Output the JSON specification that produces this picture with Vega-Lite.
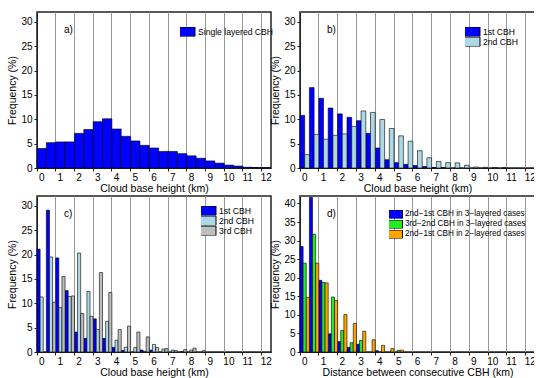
{
  "$schema": "https://vega.github.io/schema/vega-lite/v6.json",
  "padding": {"left": 7, "top": 11, "right": -3, "bottom": 0},
  "config": {
    "font": "Liberation Sans",
    "view": {"stroke": "#222", "strokeWidth": 1.5},
    "axis": {"labelFontSize": 10, "titleFontSize": 10.5, "titleFontWeight": "normal", "labelColor": "#000", "titleColor": "#000", "domainColor": "#222", "tickColor": "#222", "tickSize": 3},
    "axisX": {"grid": true, "gridColor": "#999", "gridWidth": 1, "labelAngle": 0, "labelPadding": 1, "titlePadding": 1},
    "axisY": {"grid": false, "labelPadding": 2, "titlePadding": 3},
    "legend": {"symbolType": "M-2,-1H2V1H-2Z", "symbolSize": 90, "symbolStrokeColor": "#000", "symbolStrokeWidth": 1, "symbolOpacity": 1, "labelFontSize": 8.6, "labelOffset": 7, "rowPadding": 0, "padding": 0, "clipHeight": 9.5, "labelColor": "#000"},
    "title": {"anchor": "start", "frame": "group", "fontSize": 10, "fontWeight": "normal", "baseline": "top", "offset": -23, "dx": 27, "color": "#000"}
  },
  "datasets": {
    "a": [
      {"bin": 0, "freq": 4.0}, {"bin": 0.5, "freq": 5.2}, {"bin": 1, "freq": 5.35}, {"bin": 1.5, "freq": 5.35},
      {"bin": 2, "freq": 7.1}, {"bin": 2.5, "freq": 7.9}, {"bin": 3, "freq": 9.5}, {"bin": 3.5, "freq": 10.1},
      {"bin": 4, "freq": 8.0}, {"bin": 4.5, "freq": 6.5}, {"bin": 5, "freq": 5.55}, {"bin": 5.5, "freq": 4.65},
      {"bin": 6, "freq": 4.1}, {"bin": 6.5, "freq": 3.4}, {"bin": 7, "freq": 3.4}, {"bin": 7.5, "freq": 2.95},
      {"bin": 8, "freq": 2.5}, {"bin": 8.5, "freq": 2.0}, {"bin": 9, "freq": 1.45}, {"bin": 9.5, "freq": 1.0},
      {"bin": 10, "freq": 0.6}, {"bin": 10.5, "freq": 0.4}, {"bin": 11, "freq": 0.15}, {"bin": 11.5, "freq": 0.1},
      {"bin": 12, "freq": 0.05}
    ],
    "b": [
      {"bin": 0, "series": "1st CBH", "freq": 10.8}, {"bin": 0.5, "series": "1st CBH", "freq": 16.5},
      {"bin": 1, "series": "1st CBH", "freq": 14.3}, {"bin": 1.5, "series": "1st CBH", "freq": 12.3},
      {"bin": 2, "series": "1st CBH", "freq": 11.1}, {"bin": 2.5, "series": "1st CBH", "freq": 10.4},
      {"bin": 3, "series": "1st CBH", "freq": 9.7}, {"bin": 3.5, "series": "1st CBH", "freq": 7.1},
      {"bin": 4, "series": "1st CBH", "freq": 4.1}, {"bin": 4.5, "series": "1st CBH", "freq": 1.7},
      {"bin": 5, "series": "1st CBH", "freq": 1.1}, {"bin": 5.5, "series": "1st CBH", "freq": 0.75},
      {"bin": 6, "series": "1st CBH", "freq": 0.5}, {"bin": 6.5, "series": "1st CBH", "freq": 0.3},
      {"bin": 7, "series": "1st CBH", "freq": 0.1}, {"bin": 7.5, "series": "1st CBH", "freq": 0.05},
      {"bin": 0, "series": "2nd CBH", "freq": 2.75}, {"bin": 0.5, "series": "2nd CBH", "freq": 6.9},
      {"bin": 1, "series": "2nd CBH", "freq": 5.9}, {"bin": 1.5, "series": "2nd CBH", "freq": 6.7},
      {"bin": 2, "series": "2nd CBH", "freq": 7.0}, {"bin": 2.5, "series": "2nd CBH", "freq": 8.5},
      {"bin": 3, "series": "2nd CBH", "freq": 11.7}, {"bin": 3.5, "series": "2nd CBH", "freq": 11.4},
      {"bin": 4, "series": "2nd CBH", "freq": 9.95}, {"bin": 4.5, "series": "2nd CBH", "freq": 8.1},
      {"bin": 5, "series": "2nd CBH", "freq": 6.6}, {"bin": 5.5, "series": "2nd CBH", "freq": 5.5},
      {"bin": 6, "series": "2nd CBH", "freq": 3.55}, {"bin": 6.5, "series": "2nd CBH", "freq": 2.1},
      {"bin": 7, "series": "2nd CBH", "freq": 1.35}, {"bin": 7.5, "series": "2nd CBH", "freq": 1.1},
      {"bin": 8, "series": "2nd CBH", "freq": 1.05}, {"bin": 8.5, "series": "2nd CBH", "freq": 0.55},
      {"bin": 9, "series": "2nd CBH", "freq": 0.2}, {"bin": 9.5, "series": "2nd CBH", "freq": 0.15},
      {"bin": 10, "series": "2nd CBH", "freq": 0.1}, {"bin": 10.5, "series": "2nd CBH", "freq": 0.05}
    ],
    "c": [
      {"bin": 0, "series": "1st CBH", "freq": 21.1}, {"bin": 0.5, "series": "1st CBH", "freq": 29.1},
      {"bin": 1, "series": "1st CBH", "freq": 19.3}, {"bin": 1.5, "series": "1st CBH", "freq": 12.6},
      {"bin": 2, "series": "1st CBH", "freq": 4.1}, {"bin": 2.5, "series": "1st CBH", "freq": 2.8},
      {"bin": 3, "series": "1st CBH", "freq": 6.8}, {"bin": 3.5, "series": "1st CBH", "freq": 2.8},
      {"bin": 4, "series": "1st CBH", "freq": 0.95}, {"bin": 4.5, "series": "1st CBH", "freq": 0.35},
      {"bin": 5.5, "series": "1st CBH", "freq": 0.4}, {"bin": 6, "series": "1st CBH", "freq": 0.4},
      {"bin": 0, "series": "2nd CBH", "freq": 11.3}, {"bin": 0.5, "series": "2nd CBH", "freq": 19.5},
      {"bin": 1, "series": "2nd CBH", "freq": 9.1}, {"bin": 1.5, "series": "2nd CBH", "freq": 11.4},
      {"bin": 2, "series": "2nd CBH", "freq": 20.3}, {"bin": 2.5, "series": "2nd CBH", "freq": 12.4},
      {"bin": 3, "series": "2nd CBH", "freq": 4.6}, {"bin": 3.5, "series": "2nd CBH", "freq": 6.3},
      {"bin": 4, "series": "2nd CBH", "freq": 2.4}, {"bin": 4.5, "series": "2nd CBH", "freq": 1.0},
      {"bin": 5, "series": "2nd CBH", "freq": 0.9}, {"bin": 5.5, "series": "2nd CBH", "freq": 0.15},
      {"bin": 6, "series": "2nd CBH", "freq": 1.55}, {"bin": 6.5, "series": "2nd CBH", "freq": 0.6},
      {"bin": 7, "series": "2nd CBH", "freq": 0.4}, {"bin": 7.5, "series": "2nd CBH", "freq": 0.1},
      {"bin": 8, "series": "2nd CBH", "freq": 0.4},
      {"bin": 0.5, "series": "3rd CBH", "freq": 10.2}, {"bin": 1, "series": "3rd CBH", "freq": 15.5},
      {"bin": 1.5, "series": "3rd CBH", "freq": 11.5}, {"bin": 2, "series": "3rd CBH", "freq": 7.9},
      {"bin": 2.5, "series": "3rd CBH", "freq": 7.3}, {"bin": 3, "series": "3rd CBH", "freq": 16.3},
      {"bin": 3.5, "series": "3rd CBH", "freq": 12.2}, {"bin": 4, "series": "3rd CBH", "freq": 4.6},
      {"bin": 4.5, "series": "3rd CBH", "freq": 5.3}, {"bin": 5, "series": "3rd CBH", "freq": 4.1},
      {"bin": 5.5, "series": "3rd CBH", "freq": 3.1}, {"bin": 6, "series": "3rd CBH", "freq": 0.95},
      {"bin": 6.5, "series": "3rd CBH", "freq": 0.7}, {"bin": 7, "series": "3rd CBH", "freq": 0.3},
      {"bin": 7.5, "series": "3rd CBH", "freq": 0.5}, {"bin": 8, "series": "3rd CBH", "freq": 0.8},
      {"bin": 8.5, "series": "3rd CBH", "freq": 0.3}
    ],
    "d": [
      {"bin": 0, "series": "2nd−1st CBH in 3−layered cases", "freq": 28.4},
      {"bin": 0.5, "series": "2nd−1st CBH in 3−layered cases", "freq": 41.6},
      {"bin": 1, "series": "2nd−1st CBH in 3−layered cases", "freq": 19.3},
      {"bin": 1.5, "series": "2nd−1st CBH in 3−layered cases", "freq": 4.9},
      {"bin": 2, "series": "2nd−1st CBH in 3−layered cases", "freq": 2.8},
      {"bin": 2.5, "series": "2nd−1st CBH in 3−layered cases", "freq": 1.25},
      {"bin": 3, "series": "2nd−1st CBH in 3−layered cases", "freq": 2.1},
      {"bin": 4, "series": "2nd−1st CBH in 3−layered cases", "freq": 0.35},
      {"bin": 0, "series": "3rd−2nd CBH in 3−layered cases", "freq": 23.9},
      {"bin": 0.5, "series": "3rd−2nd CBH in 3−layered cases", "freq": 31.7},
      {"bin": 1, "series": "3rd−2nd CBH in 3−layered cases", "freq": 18.7},
      {"bin": 1.5, "series": "3rd−2nd CBH in 3−layered cases", "freq": 14.8},
      {"bin": 2, "series": "3rd−2nd CBH in 3−layered cases", "freq": 5.8},
      {"bin": 2.5, "series": "3rd−2nd CBH in 3−layered cases", "freq": 2.5},
      {"bin": 3, "series": "3rd−2nd CBH in 3−layered cases", "freq": 3.1},
      {"bin": 5, "series": "3rd−2nd CBH in 3−layered cases", "freq": 0.45},
      {"bin": 0, "series": "2nd−1st CBH in 2−layered cases", "freq": 14.7},
      {"bin": 0.5, "series": "2nd−1st CBH in 2−layered cases", "freq": 23.9},
      {"bin": 1, "series": "2nd−1st CBH in 2−layered cases", "freq": 18.6},
      {"bin": 1.5, "series": "2nd−1st CBH in 2−layered cases", "freq": 13.9},
      {"bin": 2, "series": "2nd−1st CBH in 2−layered cases", "freq": 10.1},
      {"bin": 2.5, "series": "2nd−1st CBH in 2−layered cases", "freq": 7.7},
      {"bin": 3, "series": "2nd−1st CBH in 2−layered cases", "freq": 5.6},
      {"bin": 3.5, "series": "2nd−1st CBH in 2−layered cases", "freq": 3.3},
      {"bin": 4, "series": "2nd−1st CBH in 2−layered cases", "freq": 1.8},
      {"bin": 4.5, "series": "2nd−1st CBH in 2−layered cases", "freq": 0.9},
      {"bin": 5, "series": "2nd−1st CBH in 2−layered cases", "freq": 0.5}
    ]
  },
  "bounds": "flush",
  "columns": 2,
  "spacing": {"row": 28, "column": 29},
  "resolve": {"scale": {"color": "independent", "x": "independent", "y": "independent", "xOffset": "independent"}, "legend": {"color": "independent"}},
  "concat": [
    {
      "width": 234, "height": 156,
      "title": {"text": "a)"},
      "data": {"name": "a"},
      "mark": {"type": "bar", "stroke": "#000", "strokeWidth": 0.6},
      "encoding": {
        "x": {"field": "bin", "type": "ordinal", "scale": {"domain": [0,0.5,1,1.5,2,2.5,3,3.5,4,4.5,5,5.5,6,6.5,7,7.5,8,8.5,9,9.5,10,10.5,11,11.5,12], "paddingInner": 0, "paddingOuter": 0}, "axis": {"values": [0,1,2,3,4,5,6,7,8,9,10,11,12], "bandPosition": 0, "title": "Cloud base height (km)"}},
        "y": {"field": "freq", "type": "quantitative", "scale": {"domain": [0, 32]}, "axis": {"values": [0,5,10,15,20,25,30], "title": "Frequency (%)"}},
        "color": {"datum": "Single layered CBH", "scale": {"range": ["#0000ff"]}, "legend": {"orient": "none", "legendX": 143, "legendY": 15, "title": null}}
      }
    },
    {
      "width": 235, "height": 156,
      "title": {"text": "b)"},
      "data": {"name": "b"},
      "mark": {"type": "bar", "stroke": "#000", "strokeWidth": 0.6},
      "encoding": {
        "x": {"field": "bin", "type": "ordinal", "scale": {"domain": [0,0.5,1,1.5,2,2.5,3,3.5,4,4.5,5,5.5,6,6.5,7,7.5,8,8.5,9,9.5,10,10.5,11,11.5,12], "paddingInner": 0, "paddingOuter": 0}, "axis": {"values": [0,1,2,3,4,5,6,7,8,9,10,11,12], "bandPosition": 0, "title": "Cloud base height (km)"}},
        "xOffset": {"field": "series", "type": "nominal", "scale": {"domain": ["1st CBH", "2nd CBH"], "paddingInner": 0, "paddingOuter": 0}},
        "y": {"field": "freq", "type": "quantitative", "scale": {"domain": [0, 32]}, "axis": {"values": [0,5,10,15,20,25,30], "title": "Frequency (%)"}},
        "color": {"field": "series", "type": "nominal", "scale": {"domain": ["1st CBH", "2nd CBH"], "range": ["#0000ff", "#add8e6"]}, "legend": {"orient": "none", "legendX": 165, "legendY": 15, "title": null}}
      }
    },
    {
      "width": 234, "height": 156,
      "title": {"text": "c)"},
      "data": {"name": "c"},
      "mark": {"type": "bar", "stroke": "#000", "strokeWidth": 0.6},
      "encoding": {
        "x": {"field": "bin", "type": "ordinal", "scale": {"domain": [0,0.5,1,1.5,2,2.5,3,3.5,4,4.5,5,5.5,6,6.5,7,7.5,8,8.5,9,9.5,10,10.5,11,11.5,12], "paddingInner": 0, "paddingOuter": 0}, "axis": {"values": [0,1,2,3,4,5,6,7,8,9,10,11,12], "bandPosition": 0, "title": "Cloud base height (km)"}},
        "xOffset": {"field": "series", "type": "nominal", "scale": {"domain": ["1st CBH", "2nd CBH", "3rd CBH"], "paddingInner": 0, "paddingOuter": 0}},
        "y": {"field": "freq", "type": "quantitative", "scale": {"domain": [0, 32]}, "axis": {"values": [0,5,10,15,20,25,30], "title": "Frequency (%)"}},
        "color": {"field": "series", "type": "nominal", "scale": {"domain": ["1st CBH", "2nd CBH", "3rd CBH"], "range": ["#0000ff", "#add8e6", "#bebebe"]}, "legend": {"orient": "none", "legendX": 164, "legendY": 10, "title": null}}
      }
    },
    {
      "width": 235, "height": 156,
      "title": {"text": "d)"},
      "data": {"name": "d"},
      "mark": {"type": "bar", "stroke": "#000", "strokeWidth": 0.6},
      "encoding": {
        "x": {"field": "bin", "type": "ordinal", "scale": {"domain": [0,0.5,1,1.5,2,2.5,3,3.5,4,4.5,5,5.5,6,6.5,7,7.5,8,8.5,9,9.5,10,10.5,11,11.5,12], "paddingInner": 0, "paddingOuter": 0}, "axis": {"values": [0,1,2,3,4,5,6,7,8,9,10,11,12], "bandPosition": 0, "title": "Distance between consecutive CBH (km)"}},
        "xOffset": {"field": "series", "type": "nominal", "scale": {"domain": ["2nd−1st CBH in 3−layered cases", "3rd−2nd CBH in 3−layered cases", "2nd−1st CBH in 2−layered cases"], "paddingInner": 0, "paddingOuter": 0}},
        "y": {"field": "freq", "type": "quantitative", "scale": {"domain": [0, 42]}, "axis": {"values": [0,5,10,15,20,25,30,35,40], "title": "Frequency (%)"}},
        "color": {"field": "series", "type": "nominal", "scale": {"domain": ["2nd−1st CBH in 3−layered cases", "3rd−2nd CBH in 3−layered cases", "2nd−1st CBH in 2−layered cases"], "range": ["#0000ff", "#22ee22", "#ffa500"]}, "legend": {"orient": "none", "legendX": 89, "legendY": 14, "title": null, "symbolSize": 72, "clipHeight": 8.5, "labelOffset": 6, "labelFontSize": 8.2}}
      }
    }
  ]
}
